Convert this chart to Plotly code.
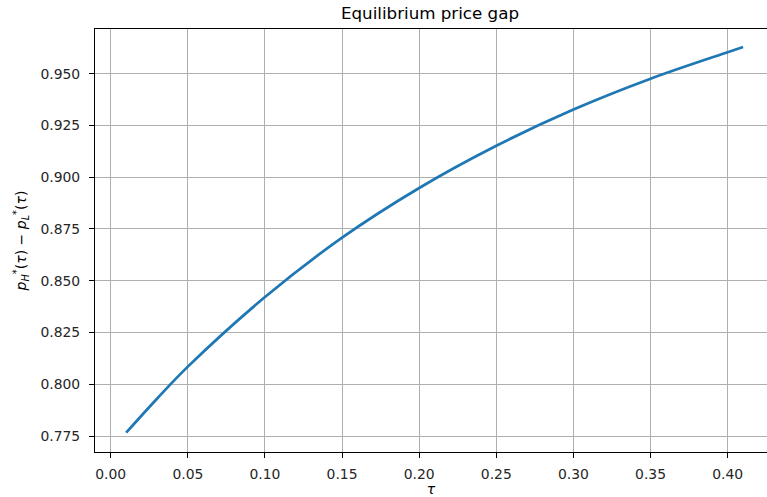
import plotly.graph_objects as go

# Equilibrium price gap p_H*(tau) - p_L*(tau) as a function of tau
tau = [0.01, 0.03, 0.05, 0.10, 0.15, 0.20, 0.25, 0.30, 0.35, 0.40, 0.41]
price_gap = [0.7766, 0.7930, 0.8085, 0.8421, 0.8708, 0.8948, 0.9152, 0.9327, 0.9476, 0.9604, 0.9629]

x_ticks = [0.00, 0.05, 0.10, 0.15, 0.20, 0.25, 0.30, 0.35, 0.40]
y_ticks = [0.775, 0.800, 0.825, 0.850, 0.875, 0.900, 0.925, 0.950]

FONT = "DejaVu Sans, sans-serif"
BLUE = "#1f77b4"
GRID = "#b0b0b0"

fig = go.Figure()
fig.add_trace(go.Scatter(
    x=tau, y=price_gap, mode="lines",
    line=dict(color=BLUE, width=2.7, shape="spline", smoothing=1.0),
    hoverinfo="skip", showlegend=False,
))

axis_common = dict(
    showline=True, linecolor="black", linewidth=1.1,
    ticks="outside", ticklen=5, tickwidth=1.1, tickcolor="black",
    showgrid=True, gridcolor=GRID, gridwidth=1.1,
    zeroline=False,
    tickfont=dict(family=FONT, size=13.9, color="#262626"),
)

fig.update_layout(
    width=767, height=497,
    margin=dict(l=95, r=0, t=29, b=45),
    paper_bgcolor="white", plot_bgcolor="white",
    title=dict(
        text="Equilibrium price gap",
        font=dict(family=FONT, size=16.7, color="black"),
        x=0.4985, xref="paper", xanchor="center",
        y=1, yref="paper", yanchor="bottom", pad=dict(b=10),
    ),
    xaxis=dict(
        range=[-0.0102, 0.4255],
        tickvals=x_ticks, tickformat=".2f",
        mirror=True,
        ticklabelstandoff=4,
        title=dict(text="<i>τ</i>", font=dict(family=FONT, size=14, color="black"), standoff=2),
        **axis_common,
    ),
    yaxis=dict(
        range=[0.76727, 0.97159],
        tickvals=y_ticks, tickformat=".3f",
        ticklabelstandoff=6,
        title=dict(
            text="<i>p</i><sub><i>H</i></sub><sup>*</sup>(<i>τ</i>) − <i>p</i><sub><i>L</i></sub><sup>*</sup>(<i>τ</i>)",
            font=dict(family=FONT, size=14, color="black"), standoff=10,
        ),
        **axis_common,
    ),
)

fig.write_html("out.html")
